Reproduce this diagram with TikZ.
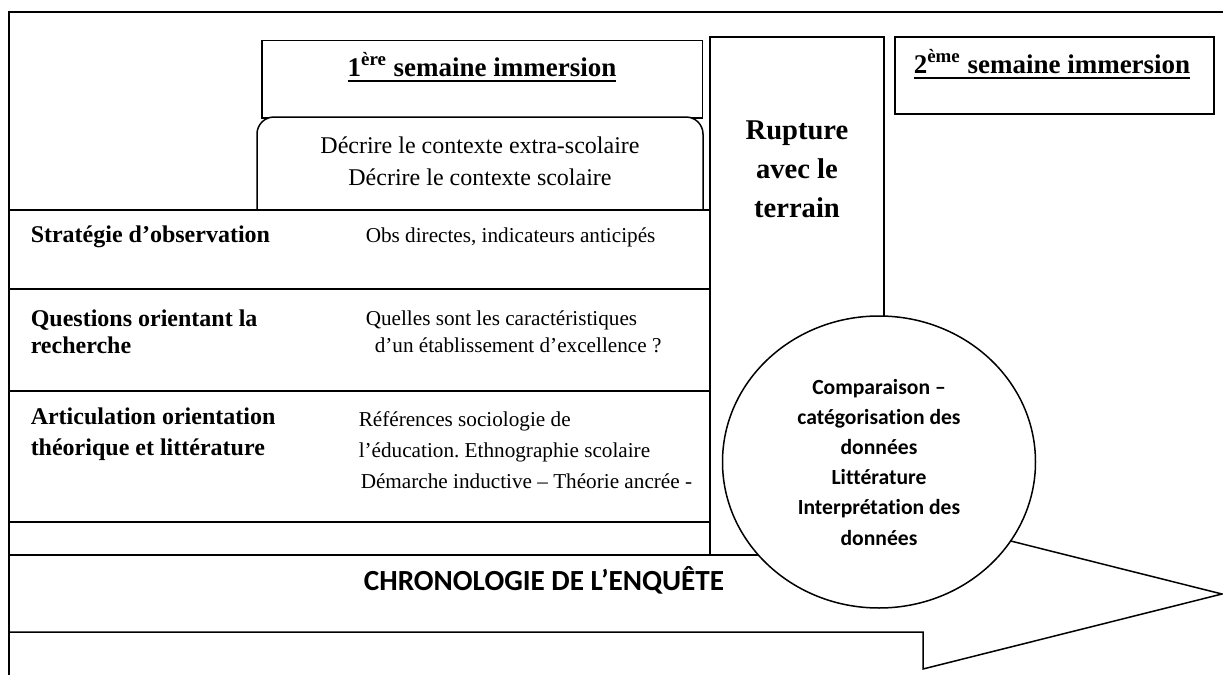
\documentclass[tikz,border=0pt]{standalone}
\usepackage{fontspec}
\setmainfont{Liberation Serif}
\newfontfamily\calibfont[RawFeature={-liga;-dlig;-clig}]{Carlito}
\usetikzlibrary{shapes.geometric}
\frenchspacing

\newcommand{\ulhead}[1]{\setbox0=\hbox{#1}\rlap{\rule[-3.2pt]{\wd0}{1.2pt}}\box0}

\begin{document}
\begin{tikzpicture}[
	x=0.5pt, y=-0.5pt,
	line width=0.75pt,
	frame/.style={draw, fill=white, inner sep=0pt, outer sep=0pt},
	rowbox/.style={frame, line width=0.9pt, minimum width=350.5pt},
	head/.style={anchor=base, font=\fontsize{13.5}{16}\selectfont\bfseries},
	rowlabel/.style={anchor=west, align=left, inner sep=0pt, font=\fontsize{12}{13.5}\selectfont\bfseries},
	rowtext/.style={anchor=west, align=left, inner sep=0pt, font=\fontsize{10.6}{15.5}\selectfont}
	]
	\useasboundingbox (0,0) rectangle (1223,675);
	% first week
	\node[frame, minimum width=220.25pt, minimum height=38.75pt] (sem1) at (482.25,79.25) {};
	\node[head] (sem1t) at (482,76) {\ulhead{1\textsuperscript{ère} semaine immersion}};
	\node[frame, rounded corners=8.5pt, minimum width=223pt, minimum height=56.5pt] (ctx) at (480,173.5) {};
	\node[font=\fontsize{12}{16}\selectfont, align=center] (ctxt) at (480,161)
		{Décrire le contexte extra-scolaire\\Décrire le contexte scolaire};
	% table
	\node[rowbox, minimum height=39.5pt] (strat) at (359.5,249.5) {};
	\node[rowbox, minimum height=51pt] (quest) at (359.5,340) {};
	\node[rowbox, minimum height=65.5pt] (artic) at (359.5,456.5) {};
	\node[rowbox, minimum height=16.5pt] (blank) at (359.5,538.5) {};
	\node[rowlabel] (stratl) at (30,237) {Stratégie d’observation};
	\node[rowtext] (stratv) at (365,237) {Obs directes, indicateurs anticipés};
	\node[rowlabel] (questl) at (30,331.5) {Questions orientant la\\recherche};
	\node[rowtext, font=\fontsize{10.6}{13.5}\selectfont] (questv) at (365,331.5)
		{Quelles sont les caractéristiques\\\hspace*{4.5pt}d’un établissement d’excellence ?};
	\node[rowlabel, font=\fontsize{12}{15.5}\selectfont\bfseries] (articl) at (30,434)
		{Articulation orientation\\théorique et littérature};
	\node[rowtext] (artiv) at (358,450)
		{Références sociologie de\\l’éducation. Ethnographie scolaire\\\hspace*{1pt}Démarche inductive – Théorie ancrée -};
	% break and second week
	\node[frame, minimum width=87pt, minimum height=259pt] (rupt) at (797,296) {};
	\node[font=\fontsize{14.3}{19.5}\selectfont\bfseries, align=center] (ruptt) at (797,169)
		{Rupture\\avec le\\terrain};
	\node[frame, minimum width=159.5pt, minimum height=38.5pt] (sem2) at (1054.5,75.5) {};
	\node[head] (sem2t) at (1052,73) {\ulhead{2\textsuperscript{ème} semaine immersion}};
	% timeline
	\draw[fill=white] (9,555) -- (923,555) -- (923,519) -- (1222,594) -- (923,669) -- (923,632) -- (9,632) -- cycle;
	\node[font=\calibfont\fontsize{14.6}{17}\selectfont\bfseries] (chrono) at (544,580) {CHRONOLOGIE DE L’ENQUÊTE};
	\node[frame, ellipse, minimum width=156.5pt, minimum height=146pt, align=center,
		font=\calibfont\fontsize{10.8}{15.1}\selectfont\bfseries] (compare) at (879,462)
		{Comparaison –\\catégorisation des\\données\\Littérature\\Interprétation des\\données};
	\draw[line width=0.8pt] (9,675) -- (9,12) -- (1223,12);
\end{tikzpicture}
\end{document}
